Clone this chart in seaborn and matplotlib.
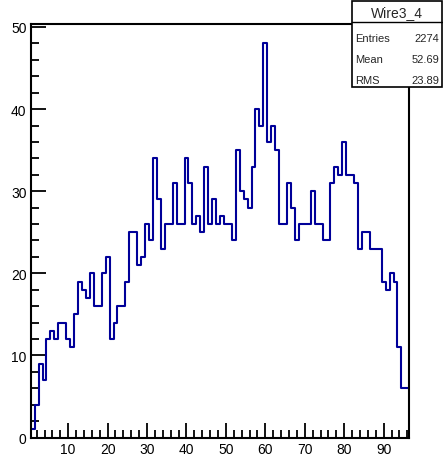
import numpy as np
import pandas as pd
import matplotlib
matplotlib.use("Agg")
import matplotlib.pyplot as plt
import seaborn as sns
from matplotlib.patches import Rectangle
from matplotlib.lines import Line2D
from matplotlib.ticker import MultipleLocator, FixedLocator

# ---- data ----
wires = list(range(1, 97))
counts = [1, 4, 9, 7, 12, 13, 12, 14, 14, 12,
          11, 15, 19, 18, 17, 20, 16, 16, 20, 22,
          12, 14, 16, 16, 19, 25, 25, 21, 22, 26,
          24, 34, 29, 23, 26, 26, 31, 26, 26, 34,
          31, 26, 27, 25, 33, 26, 29, 26, 27, 26,
          26, 24, 35, 30, 29, 28, 33, 40, 38, 48,
          36, 38, 35, 26, 26, 31, 28, 24, 26, 26,
          26, 30, 26, 26, 24, 24, 31, 33, 32, 36,
          32, 32, 31, 23, 25, 25, 23, 23, 23, 19,
          18, 20, 19, 11, 6, 6]
x_ticks = [10, 20, 30, 40, 50, 60, 70, 80, 90]
y_ticks = [0, 10, 20, 30, 40, 50]
hist_name = "Wire3_4"
stat_labels = ["Entries", "Mean", "RMS"]
stat_values = ["2274", "52.69", "23.89"]

sns.set_style("white")
plt.rcParams['font.family'] = ['Liberation Sans', 'DejaVu Sans']

W, H = 443, 456
fig = plt.figure(figsize=(W / 100, H / 100), dpi=100)
fig.patch.set_facecolor("white")

left, right, top, bottom = 30.7, 409.3, 24.7, 438.5
ax = fig.add_axes([left / W, 1 - bottom / H, (right - left) / W, (bottom - top) / H])

df = pd.DataFrame({"wire": wires, "count": counts})
sns.histplot(data=df, x="wire", weights="count", binwidth=1.0, binrange=(0.5, 96.5),
             element="step", fill=False, color="#000099", linewidth=1.5, ax=ax)

ax.set_xlim(0.5, 96.5)
ax.set_ylim(0, 50.4)
ax.set_xlabel("")
ax.set_ylabel("")
ax.xaxis.set_major_locator(FixedLocator(x_ticks))
ax.yaxis.set_major_locator(FixedLocator(y_ticks))
ax.xaxis.set_minor_locator(MultipleLocator(2))
ax.yaxis.set_minor_locator(MultipleLocator(2))
ax.set_xticklabels([str(t) for t in x_ticks])
ax.set_yticklabels([str(t) for t in y_ticks])
ax.tick_params(which="major", direction="in", length=11, width=1.3, color="black",
               labelsize=10, pad=3, top=False, right=False, bottom=True, left=True,
               labelcolor="black")
ax.tick_params(which="minor", direction="in", length=5.5, width=1.3, color="black",
               top=False, right=False, bottom=True, left=True)
for s in ax.spines.values():
    s.set_visible(True)
    s.set_color("black")
    s.set_linewidth(1.5)
ax.grid(False)

# ---- stats box ----
def fx(x):
    return x / W

def fy(y):
    return 1 - y / H

bx0, bx1, by0, by1 = 352, 442, 2, 88
fig.add_artist(Rectangle((fx(bx0), fy(by1)), (bx1 - bx0) / W, (by1 - by0) / H,
                         transform=fig.transFigure, facecolor="white",
                         edgecolor="black", linewidth=1.2, zorder=10))
fig.add_artist(Line2D([fx(bx0), fx(bx1)], [fy(23), fy(23)], transform=fig.transFigure,
                      color="black", linewidth=1.0, zorder=11))
fig.text(fx((bx0 + bx1) / 2), fy(13), hist_name, ha="center", va="center",
         fontsize=10, zorder=12)
row_y = [38.5, 60, 80.5]
for lab, val, yy in zip(stat_labels, stat_values, row_y):
    fig.text(fx(355), fy(yy), lab, ha="left", va="center", fontsize=8, zorder=12)
    fig.text(fx(439.5), fy(yy), val, ha="right", va="center", fontsize=8, zorder=12)

fig.savefig("out.png", dpi=100, facecolor="white")
